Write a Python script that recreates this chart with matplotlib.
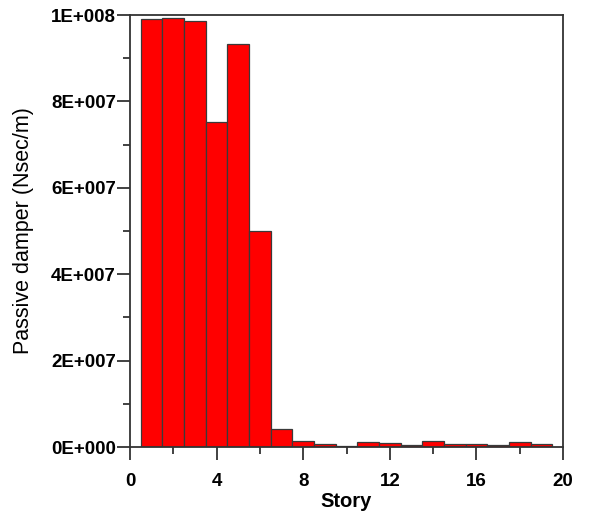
import numpy as np
import matplotlib
matplotlib.use("Agg")
import matplotlib.pyplot as plt
from matplotlib.ticker import MultipleLocator, FuncFormatter

# damper coefficient per story (N sec/m)
story = np.arange(1, 20)
damper = [9.90e7, 9.92e7, 9.86e7, 7.52e7, 9.34e7, 5.00e7, 4.2e6, 1.4e6, 0.8e6, 0.2e6,
          1.1e6, 1.0e6, 0.45e6, 1.45e6, 0.7e6, 0.75e6, 0.45e6, 1.1e6, 0.8e6]

plt.rcParams['font.family'] = ['Liberation Sans', 'DejaVu Sans']

fig = plt.figure(figsize=(5.92, 5.11), dpi=100)
ax = fig.add_axes([130/592, 1-447/511, (563-130)/592, (447-15)/511])

ax.bar(story, damper, width=1.0, color='#ff0000', edgecolor='#3a3a3a', linewidth=0.9)

ax.set_xlim(0, 20)
ax.set_ylim(0, 1e8)
ax.xaxis.set_major_locator(MultipleLocator(4))
ax.xaxis.set_minor_locator(MultipleLocator(2))
ax.yaxis.set_major_locator(MultipleLocator(2e7))
ax.yaxis.set_minor_locator(MultipleLocator(1e7))


def sci(v, pos):
    # old-style label: 2E+007
    if v <= 0:
        return '0E+000'
    e = int(np.floor(np.log10(v)))
    m = v / 10**e
    return '%dE+%03d' % (round(m), e)


ax.yaxis.set_major_formatter(FuncFormatter(sci))

for s in ax.spines.values():
    s.set_linewidth(1.3)
    s.set_color('#333333')

ax.tick_params(axis='both', which='major', direction='out', length=9.5, width=1.3, color='#333333')
ax.tick_params(axis='both', which='minor', direction='out', length=5, width=1.3, color='#333333')
ax.tick_params(axis='y', which='major', pad=0.5)
ax.tick_params(axis='x', which='major', pad=9)

for lab in ax.get_xticklabels() + ax.get_yticklabels():
    lab.set_fontsize(13.5)
    lab.set_fontweight('bold')

ax.set_xlabel('Story', fontsize=14.5, fontweight='bold', labelpad=2)
ax.set_ylabel('Passive damper (Nsec/m)', fontsize=15.5, labelpad=12)

fig.savefig('out.png', dpi=100)
